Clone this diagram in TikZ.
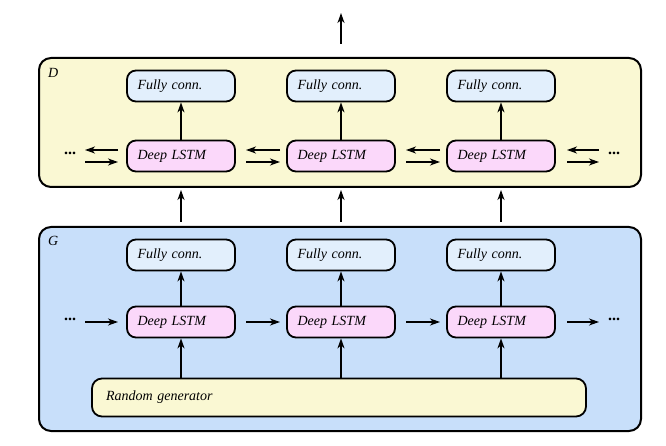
\documentclass[tikz,border=0pt]{standalone}
\usepackage{fontspec}
\setmainfont{Liberation Serif}
\usetikzlibrary{arrows.meta}
\definecolor{dfill}{HTML}{FAF8D3}
\definecolor{gfill}{HTML}{C8DFFA}
\definecolor{fcfill}{HTML}{E2EFFC}
\definecolor{lfill}{HTML}{FBD8FA}
\definecolor{rgfill}{HTML}{FAF8D3}
\tikzset{
  outer/.style={draw, line width=2pt, rounded corners=12pt, minimum width=602pt, anchor=north west, inner sep=0pt},
  lbl/.style={font=\fontsize{14}{16}\selectfont\itshape},
  blk/.style={draw, line width=1.8pt, rounded corners=9pt, minimum width=108pt, minimum height=31pt,
    inner sep=0pt, text width=87pt, align=left, lbl},
  fcbox/.style={blk, fill=fcfill},
  lbox/.style={blk, fill=lfill},
  arr/.style={line width=1.5pt, -{Stealth[length=10pt,width=7pt,inset=3pt]}},
  dots/.style={font=\fontsize{16}{16}\selectfont\bfseries, inner sep=0pt},
}
\begin{document}
\begin{tikzpicture}[x=1pt,y=-1pt]
\useasboundingbox (0,0) rectangle (666,446);
% outer boxes
\node[outer, fill=dfill, minimum height=129pt] (D) at (38,57) {};
\node[outer, fill=gfill, minimum height=204pt] (G) at (38,226) {};
\node[anchor=base west, lbl, inner sep=0pt] (Dl) at (48,78) {D};
\node[anchor=base west, lbl, inner sep=0pt] (Gl) at (48,246) {G};
% blocks
\foreach \i/\x in {1/181,2/341,3/501}{
  \node[fcbox] (dfc\i) at (\x,86) {Fully conn.};
  \node[lbox] (dl\i) at (\x,156) {Deep LSTM};
  \node[fcbox] (gfc\i) at (\x,255) {Fully conn.};
  \node[lbox] (gl\i) at (\x,322) {Deep LSTM};
  \draw[arr] (dl\i) -- (dfc\i);
  \draw[arr] (gl\i) -- (gfc\i);
  \coordinate (up\i) at (\x,222);
  \coordinate (dn\i) at (\x,190);
  \draw[arr] (up\i) -- (dn\i);
  \coordinate (rgin\i) at (\x,379);
}
\node[draw, line width=1.8pt, rounded corners=10pt, fill=rgfill, minimum width=494pt, minimum height=38pt,
  inner sep=0pt, text width=466pt, align=left, lbl] (rg) at (339,397.5) {Random generator};
\foreach \i in {1,2,3}{ \draw[arr] (rgin\i) -- (gl\i); }
% top output
\coordinate (o1) at (341,44);
\coordinate (o2) at (341,13);
\draw[arr] (o1) -- (o2);
% dots
\node[dots] (dL) at (70,153) {...};
\node[dots] (dR) at (614,153) {...};
\node[dots] (gL) at (70,319) {...};
\node[dots] (gR) at (614,319) {...};
% arrows between blocks
\foreach \a/\b/\n in {85/118/a,246/280/b,406/440/c,567/599/d}{
  \coordinate (dal\n) at (\a,150);
  \coordinate (dar\n) at (\b,150);
  \draw[arr] (dar\n) -- (dal\n);
  \coordinate (dbl\n) at (\a,162);
  \coordinate (dbr\n) at (\b,162);
  \draw[arr] (dbl\n) -- (dbr\n);
  \coordinate (gl\n) at (\a,322);
  \coordinate (gr\n) at (\b,322);
  \draw[arr] (gl\n) -- (gr\n);
}
\end{tikzpicture}
\end{document}
